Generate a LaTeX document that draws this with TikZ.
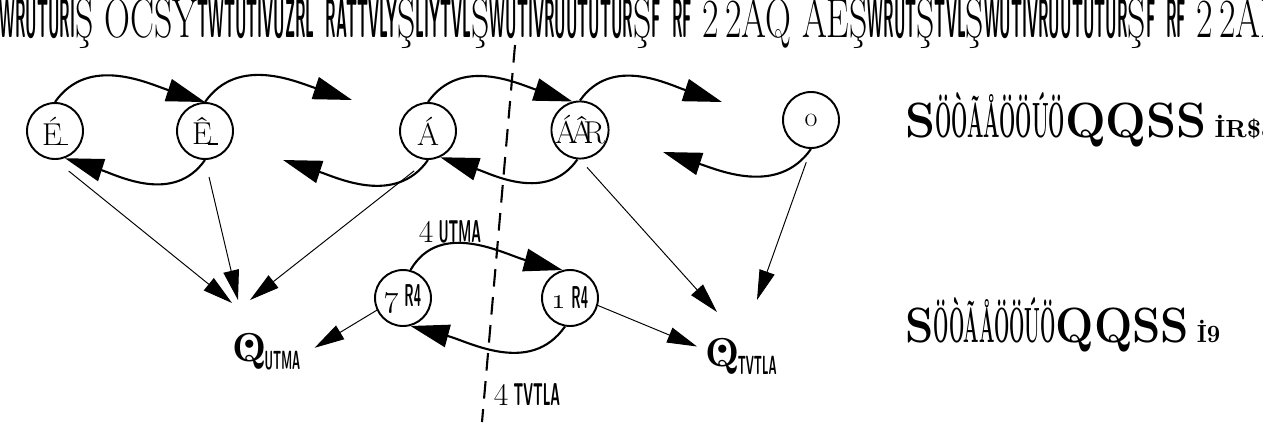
\documentclass[tikz,border=0pt]{standalone}
\usepackage{graphicx}
\usetikzlibrary{arrows.meta, calc}
\newcommand\squeeze[1]{\scalebox{0.42}[1]{\sffamily\bfseries #1}}
\newcommand\squeezerm[1]{\scalebox{0.4}[1]{\bfseries #1}}
\newcommand\dotQ{\ooalign{Q\cr\hfil\raisebox{0.3em}{$\scriptscriptstyle\bullet$}\hfil\cr}}
\newcommand\barE[1]{#1\kern-0.12em\rule{0.3em}{0.7pt}}

\begin{document}
\begin{tikzpicture}[x=0.02cm, y=0.02cm,
    every node/.style={font=\fontsize{18}{20}\selectfont},
    state/.style={draw, circle, line width=1.1pt, minimum size=1.12cm, inner sep=0pt},
    hop/.style={line width=1.2pt, -{Triangle[length=22pt, width=13pt]}},
    leak/.style={line width=0.55pt, -{Triangle[length=17pt, width=9pt]}},
    cut/.style={line width=1.2pt, dash pattern=on 10pt off 6pt}]
  \useasboundingbox (0,0) rectangle (1263,-436);
  \clip (0,0) rectangle (1263,-436);
  % Kopfzeile
  \node[anchor=base west, inner sep=0] (header) at (-12,-37) {\resizebox{25.9cm}{0.95cm}{\squeeze{TWRUTURI}Ş ÕCSY\squeeze{TWTUTIVUZRL\ \ RATTVLY}Ş\squeeze{LIYTVL}Ş\squeeze{WUTIVRUUTUTUR}Ş\squeeze{F\ \ RF} 2\,2ÄQ ÂÊŞ\squeeze{WRUT}Ş\squeeze{TVL}Ş\squeeze{WUTIVRUUTUTUR}Ş\squeeze{F\ \ RF} 2\,2ÄĒ}};
  % Kette oben
  \foreach \i/\x/\y/\lab in {1/55/131/{\barE{\'E}}, 2/205/131/{\barE{\^E}}, 3/428/131/{Á}, 4/580/130/{Á\kern-0.2emÂ\kern-0.3emR}, 5/811/120/{\fontsize{16}{16}\selectfont o}} {
    \node[state] (site\i) at (\x,-\y) {\lab};
  }
  \coordinate (e1) at (352,-100);
  \coordinate (e2) at (722,-102);
  \coordinate (e3) at (283,-160);
  \coordinate (e4) at (663,-152);
  % Sprünge nach rechts
  \draw[hop] (site1.north) to[out=55,in=162] (site2.north);
  \draw[hop] (site2.north) to[out=55,in=162] (e1);
  \draw[hop] (site3.north) to[out=55,in=162] (site4.105);
  \draw[hop] (site4.north) to[out=55,in=162] (e2);
  % Sprünge nach links
  \draw[hop] (site2.south) to[out=-125,in=-18] (site1.-70);
  \draw[hop] (site3.south) to[out=-125,in=-18] (e3);
  \draw[hop] (site4.-95) to[out=-125,in=-18] (site3.-65);
  \draw[hop] (site5.south) to[out=-125,in=-18] (e4);
  % Reservoire unten
  \node[state] (resL) at (403,-298) {\oldstylenums{7}\,\squeeze{R4}};
  \node[state] (resR) at (570,-298) {\oldstylenums{1}\,\squeeze{R4}};
  \draw[hop] (resL.75) to[out=60,in=165] (resR.105);
  \draw[hop] (resR.-100) to[out=-125,in=-15] (resL.-75);
  \node (topflow) at (450,-232) {4\,\squeeze{UTMA}};
  \node (botflow) at (527,-395) {4\,\squeeze{TVTLA}};
  % Wärmeströme
  \node[anchor=north west, inner sep=0, font=\fontsize{23}{23}\selectfont\bfseries] (heatL) at (232,-333) {\dotQ\kern-1pt\raisebox{-0.2em}{\fontsize{15}{15}\selectfont\squeeze{UTMA}}};
  \node[anchor=north west, inner sep=0, font=\fontsize{23}{23}\selectfont\bfseries] (heatR) at (705,-338) {\dotQ\kern-1pt\raisebox{-0.2em}{\fontsize{15}{15}\selectfont\squeeze{TVTLA}}};
  \draw[leak, shorten <=10pt] (site1.south) -- ($(heatL.north west)+(0,30)$);
  \draw[leak, shorten <=10pt] (site2.south) -- ($(heatL.north west)+(6,33)$);
  \draw[leak, shorten <=10pt] (site3.south) -- ($(heatL.north west)+(18,33)$);
  \draw[leak, shorten <=6pt] (site4.south) -- ($(heatR.north west)+(12,26)$);
  \draw[leak, shorten <=8pt] (site5.south) -- ($(heatR.north west)+(52,38)$);
  \draw[leak] (resL.205) -- ($(heatL.east)+(14,4)$);
  \draw[leak] (resR.-15) -- ($(heatR.west)+(-8,10)$);
  % Schnitt
  \coordinate (cutTop) at (515,-45);
  \coordinate (cutBot) at (482,-422);
  \draw[cut] (cutTop) -- (cutBot);
  % Text rechts
  \node[anchor=base west, inner sep=0] (noteA) at (905,-137) {\resizebox{7.4cm}{0.9cm}{\bfseries S\squeezerm{ÖÒÃÅÖÖÚÖ}QQSS\,{\small İR\$8}}};
  \node[anchor=base west, inner sep=0] (noteB) at (905,-342) {\resizebox{6.3cm}{0.9cm}{\bfseries S\squeezerm{ÖÒÃÅÖÖÚÖ}QQSS\,{\small İ9}}};
\end{tikzpicture}
\end{document}
